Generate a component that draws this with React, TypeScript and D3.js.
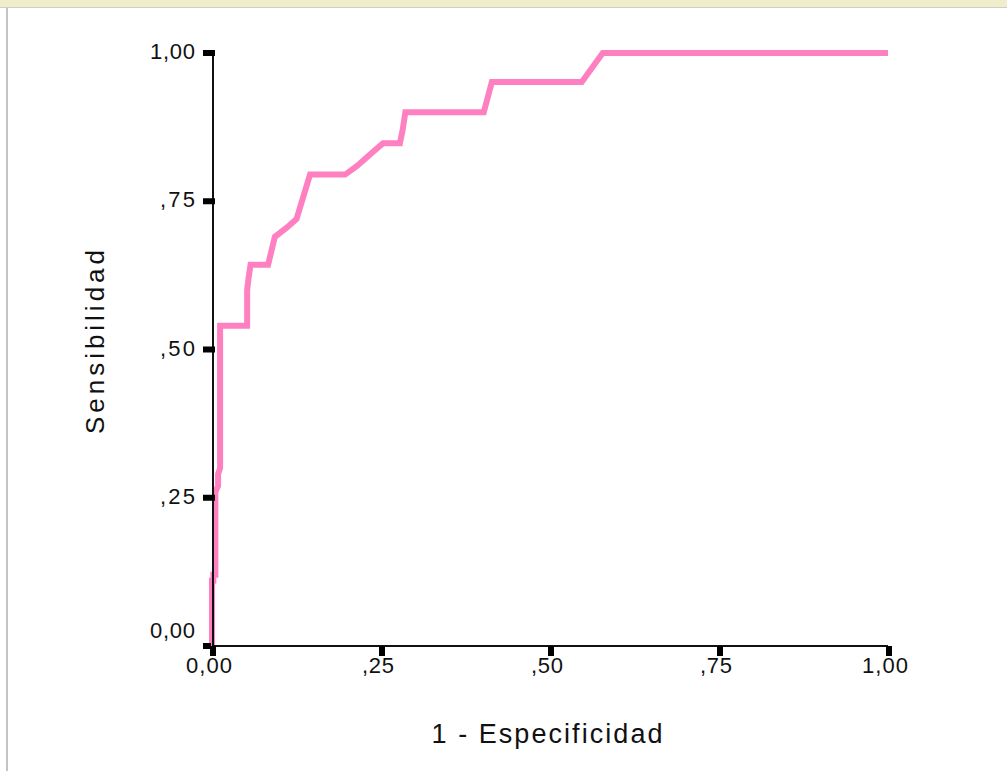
import * as d3 from "d3";

// ROC curve points: [1 - especificidad, sensibilidad]
const rocX = [
  0, 0, 0.002, 0.002, 0.005, 0.005, 0.009, 0.009, 0.012, 0.012, 0.052, 0.052,
  0.054, 0.057, 0.083, 0.093, 0.11, 0.125, 0.145, 0.197, 0.215, 0.235, 0.253,
  0.278, 0.282, 0.286, 0.402, 0.414, 0.547, 0.578, 1,
];
const rocY = [
  0, 0.11, 0.11, 0.12, 0.12, 0.26, 0.27, 0.29, 0.3, 0.54, 0.54, 0.6, 0.62,
  0.643, 0.643, 0.69, 0.705, 0.72, 0.795, 0.795, 0.81, 0.83, 0.848, 0.848,
  0.87, 0.9, 0.9, 0.951, 0.951, 1, 1,
];

const tickValues = [0, 0.25, 0.5, 0.75, 1];
const yTickLabels = ["0,00", ",25", ",50", ",75", "1,00"];
const xTickLabels = ["0,00", ",25", ",50", ",75", "1,00"];

const width = 1007;
const height = 771;
const font = "'Liberation Sans', Arial, sans-serif";

export default function App() {
  const margin = { top: 53, right: 119, bottom: 125, left: 212 };

  const x = d3
    .scaleLinear()
    .domain([0, 1])
    .range([margin.left, width - margin.right]);
  const y = d3
    .scaleLinear()
    .domain([0, 1])
    .range([height - margin.bottom, margin.top]);

  const points = rocX.map((d, i) => [d, rocY[i]] as [number, number]);
  const line = d3
    .line<[number, number]>()
    .x((d) => x(d[0]))
    .y((d) => y(d[1]));

  const x0 = x(0);
  const y0 = y(0);

  return (
    <svg
      width={width}
      height={height}
      style={{ position: "absolute", left: 0, top: 0, background: "#fff" }}
    >
      {/* page frame */}
      <rect x={0} y={0} width={width} height={7} fill="#efedcb" />
      <rect x={0} y={7} width={width} height={1} fill="#cfcfbf" />
      <rect x={6} y={8} width={2} height={height - 8} fill="#c4c4c4" />

      {/* roc line */}
      <path
        d={line(points) ?? ""}
        fill="none"
        stroke="#ff80c0"
        strokeWidth={6}
        strokeLinejoin="miter"
      />

      {/* axes */}
      <line x1={x0 + 1} x2={x0 + 1} y1={y(1)} y2={y0} stroke="#111" strokeWidth={2} />
      <line x1={x0} x2={x(1)} y1={y0} y2={y0} stroke="#111" strokeWidth={2} />

      {/* y ticks */}
      {tickValues.map((t, i) => (
        <g key={"y" + i}>
          <rect
            x={x0 - 9}
            y={y(t) - 3}
            width={t === 0 ? 8 : 12}
            height={6}
            fill="#000"
          />
          <text
            x={195}
            y={t === 0 ? y(t) - 8 : y(t) + 6}
            textAnchor="end"
            fontFamily={font}
            fontSize={22}
            textLength={yTickLabels[i].length === 4 ? 45 : 35}
            lengthAdjust="spacing"
            fill="#111"
          >
            {yTickLabels[i]}
          </text>
        </g>
      ))}

      {/* x ticks */}
      {tickValues.map((t, i) => (
        <g key={"x" + i}>
          <rect x={x(t) - 2} y={y0} width={6} height={10} fill="#000" />
          <text
            x={x(t) - 3}
            y={y0 + 27}
            textAnchor="middle"
            fontFamily={font}
            fontSize={22}
            textLength={xTickLabels[i].length === 4 ? 46 : 32}
            lengthAdjust="spacing"
            fill="#111"
          >
            {xTickLabels[i]}
          </text>
        </g>
      ))}

      {/* axis titles */}
      <text
        x={547}
        y={743}
        textAnchor="middle"
        fontFamily={font}
        fontSize={27}
        textLength={231}
        lengthAdjust="spacing"
        fill="#111"
      >
        1 - Especificidad
      </text>
      <text
        transform="translate(104,342) rotate(-90)"
        textAnchor="middle"
        fontFamily={font}
        fontSize={26}
        textLength={184}
        lengthAdjust="spacing"
        fill="#111"
      >
        Sensibilidad
      </text>
    </svg>
  );
}
